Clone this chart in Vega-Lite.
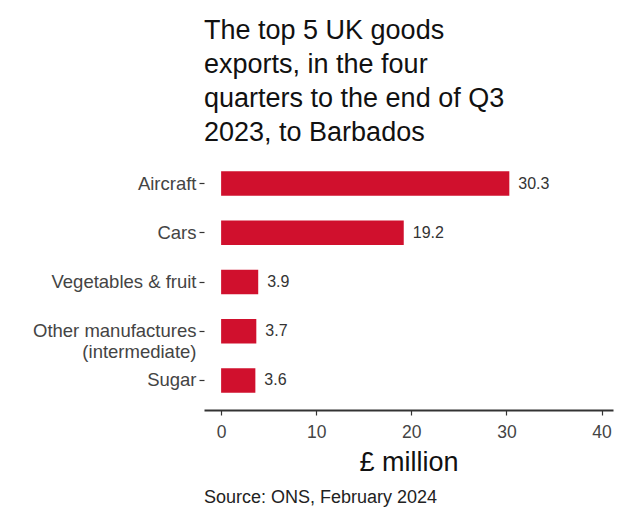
{
  "$schema": "https://vega.github.io/schema/vega-lite/v6.json",
  "autosize": {"type": "none"},
  "padding": {"left": 204, "top": 154, "right": 413, "bottom": 354},
  "background": "white",
  "title": {
    "text": ["The top 5 UK goods", "exports, in the four", "quarters to the end of Q3", "2023, to Barbados"],
    "anchor": "start",
    "frame": "group",
    "font": "Liberation Sans",
    "fontSize": 27,
    "fontWeight": "normal",
    "lineHeight": 34,
    "color": "#111111",
    "offset": 7
  },
  "config": {"view": {"stroke": null}, "font": "Liberation Sans"},
  "vconcat": [
    {
      "width": 409,
      "height": 256,
      "title": {
        "text": "Source: ONS, February 2024",
        "orient": "bottom",
        "anchor": "start",
        "frame": "group",
        "font": "Liberation Sans",
        "fontSize": 18,
        "fontWeight": "normal",
        "color": "#222222",
        "offset": 13
      },
      "data": {
        "values": [
          {"product": "Aircraft", "value": 30.3},
          {"product": "Cars", "value": 19.2},
          {"product": "Vegetables & fruit", "value": 3.9},
          {"product": "Other manufactures (intermediate)", "value": 3.7},
          {"product": "Sugar", "value": 3.6}
        ]
      },
      "encoding": {
        "y": {
          "field": "product",
          "type": "nominal",
          "sort": null,
          "scale": {"paddingInner": 0.5, "paddingOuter": 0.35},
          "axis": {
            "title": null,
            "domain": false,
            "ticks": true,
            "tickSize": 5,
            "tickColor": "#333333",
            "tickWidth": 1.2,
            "labelFont": "Liberation Sans",
            "labelFontSize": 18.5,
            "labelColor": "#444444",
            "labelPadding": 3,
            "labelLineHeight": 21,
            "labelLimit": 300,
            "labelExpr": "datum.value == 'Other manufactures (intermediate)' ? ['Other manufactures', '(intermediate)'] : datum.value"
          }
        },
        "x": {
          "field": "value",
          "type": "quantitative",
          "scale": {"domain": [-1.8, 41.2], "nice": false, "zero": false},
          "axis": {
            "title": "£ million",
            "titleFont": "Liberation Sans",
            "titleFontSize": 27,
            "titleFontWeight": "normal",
            "titleColor": "#111111",
            "titlePadding": 9,
            "values": [0, 10, 20, 30, 40],
            "grid": false,
            "domain": true,
            "domainColor": "#333333",
            "domainWidth": 2,
            "ticks": true,
            "tickSize": 5,
            "tickColor": "#333333",
            "tickWidth": 1.2,
            "labelFont": "Liberation Sans",
            "labelFontSize": 17.5,
            "labelColor": "#444444",
            "labelPadding": 8
          }
        }
      },
      "layer": [
        {
          "mark": {"type": "bar", "color": "#d0102d"},
          "encoding": {"x2": {"datum": 0}}
        },
        {
          "mark": {"type": "text", "align": "left", "baseline": "middle", "dx": 9, "font": "Liberation Sans", "fontSize": 16, "color": "#333333"},
          "encoding": {"text": {"field": "value", "type": "quantitative", "format": ".1f"}}
        }
      ]
    }
  ]
}
